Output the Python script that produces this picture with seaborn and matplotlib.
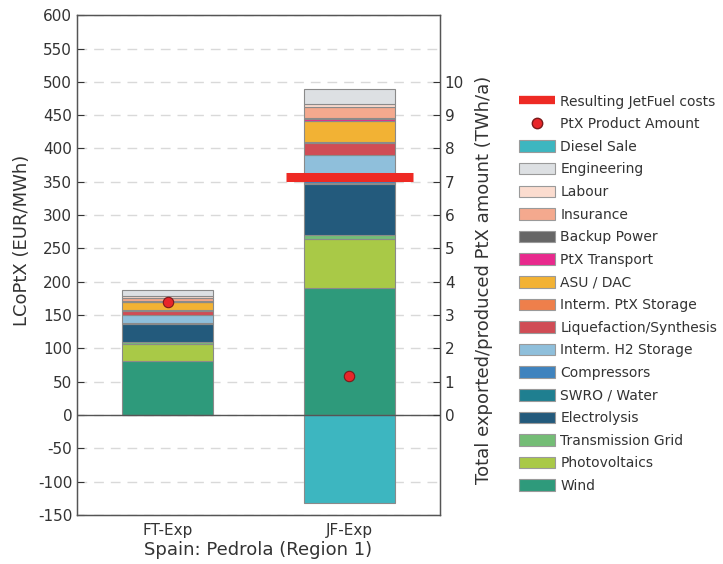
import numpy as np
import matplotlib
matplotlib.use("Agg")
import matplotlib.pyplot as plt
from matplotlib.lines import Line2D
from matplotlib.patches import Patch
import seaborn as sns

# scenarios on the x axis
scenarios = ["FT-Exp", "JF-Exp"]

# cost components, bottom of the stack first (EUR/MWh)
components = ["Wind", "Photovoltaics", "Transmission Grid", "Electrolysis",
              "SWRO / Water", "Compressors", "Interm. H2 Storage",
              "Liquefaction/Synthesis", "Interm. PtX Storage", "ASU / DAC",
              "PtX Transport", "Backup Power", "Insurance", "Labour", "Engineering"]
ft_exp = [81, 25, 3.5, 27, 1, 1, 11, 7, 1, 12, 0.5, 0.5, 5, 3, 8.5]
jf_exp = [190, 74, 6, 77, 1.5, 2, 40, 18, 1, 32, 3, 1, 17, 4, 23]
diesel_sale = [0, -132]

# right axis values
ptx_amount = [3.39, 1.17]      # TWh/a
jetfuel_cost = 357             # EUR/MWh, JF-Exp only

colors = {
    "Wind": "#2e9a7b", "Photovoltaics": "#a9c947", "Transmission Grid": "#74bd76",
    "Electrolysis": "#235a7c", "SWRO / Water": "#1f7f90", "Compressors": "#3f83be",
    "Interm. H2 Storage": "#8fbfdb", "Liquefaction/Synthesis": "#d04c55",
    "Interm. PtX Storage": "#ee7f4b", "ASU / DAC": "#f2b234", "PtX Transport": "#e8298d",
    "Backup Power": "#666666", "Insurance": "#f4a98e", "Labour": "#fbdccf",
    "Engineering": "#dde0e3", "Diesel Sale": "#3db6c0",
}

sns.set_style("white")
plt.rcParams['font.family'] = ['DejaVu Sans']
plt.rcParams['axes.unicode_minus'] = False
text_col = "#333333"
edge_col = "#8a8a8a"

fig = plt.figure(figsize=(7.23, 5.64), dpi=100)
ax = fig.add_axes([0.1065, 0.087, 0.502, 0.886])

# stacked positive components
bottoms = np.zeros(len(scenarios))
for i, comp in enumerate(components):
    vals = np.array([ft_exp[i], jf_exp[i]])
    sns.barplot(x=scenarios, y=vals, bottom=bottoms, color=colors[comp], width=0.5,
                edgecolor=edge_col, linewidth=0.8, saturation=1, ax=ax)
    bottoms = bottoms + vals

# negative revenue below zero
sns.barplot(x=scenarios, y=np.array(diesel_sale), color=colors["Diesel Sale"], width=0.5,
            edgecolor=edge_col, linewidth=0.8, saturation=1, ax=ax)

ax.axhline(0, color="#555555", lw=1, zorder=3)
ax.hlines(jetfuel_cost, 0.65, 1.35, color="#ee2a24", lw=6.5, zorder=5, capstyle="butt")

ax.set_ylim(-150, 600)
ax.set_yticks(np.arange(-150, 601, 50))
ax.set_xlim(-0.5, 1.5)
ax.yaxis.grid(True, color="#d9d9d9", lw=1, linestyle=(0, (7, 5)))
ax.set_axisbelow(True)
ax.tick_params(axis="both", direction="in", labelsize=11, colors=text_col,
               length=5, width=0.8, right=True)
ax.tick_params(axis="x", pad=6)
ax.set_ylabel("LCoPtX (EUR/MWh)", fontsize=13, color=text_col)
ax.yaxis.set_label_coords(-0.127, 0.55)
ax.set_xlabel("Spain: Pedrola (Region 1)", fontsize=13, color=text_col, labelpad=2)
for s in ax.spines.values():
    s.set_color("#555555")
    s.set_linewidth(1)

# secondary axis for produced amount
ax2 = ax.twinx()
ax2.set_ylim(-3, 12)
ax2.set_yticks(np.arange(0, 11, 1))
ax2.plot([0, 1], ptx_amount, linestyle="none", marker="o", markersize=7.5,
         markerfacecolor="#e8262a", markeredgecolor="#7a1a1a", markeredgewidth=0.8, zorder=6)
ax2.tick_params(axis="y", direction="in", labelsize=11, colors=text_col, length=5, width=0.8)
ax2.set_ylabel("Total exported/produced PtX amount (TWh/a)", fontsize=13, color=text_col)
ax2.yaxis.set_label_coords(1.097, 0.47)
for s in ax2.spines.values():
    s.set_color("#555555")

# legend
handles = [Line2D([0], [0], color="#ee2a24", lw=6, solid_capstyle="butt"),
           Line2D([0], [0], linestyle="none", marker="o", markersize=7.5,
                  markerfacecolor="#e8262a", markeredgecolor="#7a1a1a")]
labels = ["Resulting JetFuel costs", "PtX Product Amount"]
for comp in ["Diesel Sale"] + components[::-1]:
    handles.append(Patch(facecolor=colors[comp], edgecolor="#9a9a9a", linewidth=0.8))
    labels.append(comp)
fig.legend(handles, labels, loc="center left", bbox_to_anchor=(0.701, 0.479),
           frameon=False, fontsize=10, handlelength=2.6, handleheight=0.9,
           handletextpad=0.35, labelspacing=0.62, labelcolor=text_col)

fig.savefig("out.png", dpi=100)
